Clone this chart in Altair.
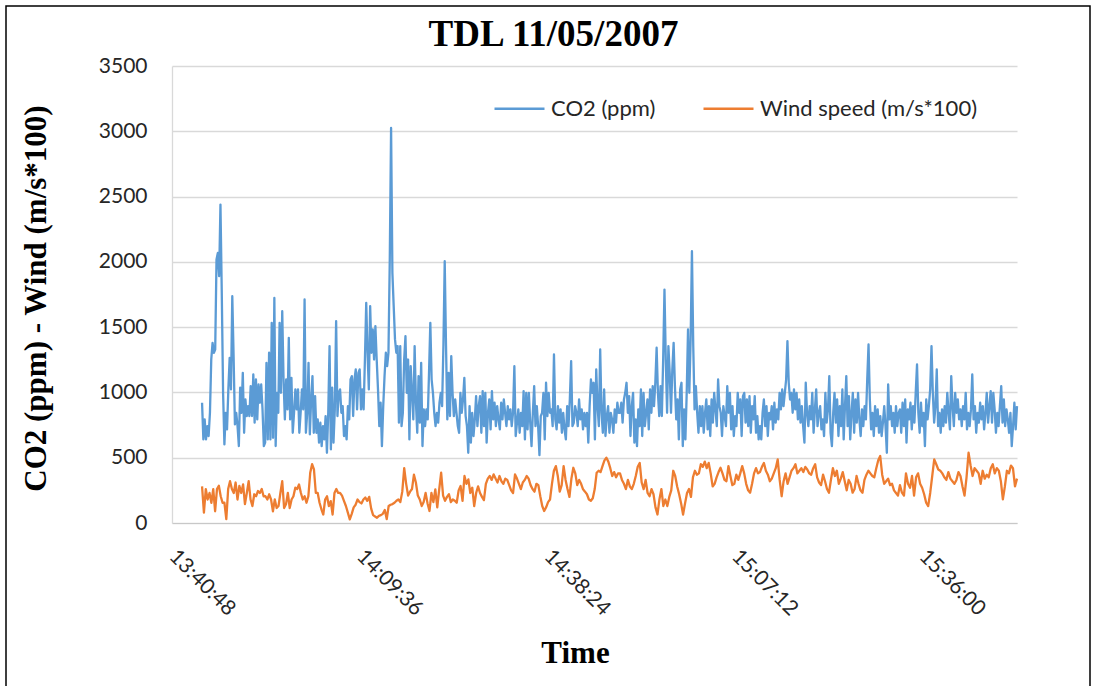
import altair as alt
import numpy as np
import pandas as pd

title_text = "TDL 11/05/2007"
y_title = "CO2 (ppm) - Wind (m/s*100)"
x_title = "Time"
series_names = ["CO2 (ppm)", "Wind speed (m/s*100)"]
series_colors = ["#5B9BD5", "#ED7D31"]

x_range = ["13:40:48", "15:50:36"]
tick_labels = ["13:40:48", "14:09:36", "14:38:24", "15:07:12", "15:36:00"]
y_ticks = [0, 500, 1000, 1500, 2000, 2500, 3000, 3500]

# time boundaries of the reading segments
seg_edges = ["13:45:25", "14:06:37", "14:28:07", "14:49:37", "15:11:07", "15:32:37", "15:50:36"]

co2_1 = [921, 640, 793, 640, 742, 666, 844, 1252, 1380, 1304, 1329, 2018, 2069, 1890, 2439, 1763, 997, 602, 844, 717,
         1023, 1265, 1023, 1737, 1278, 755, 844, 742, 589, 1036, 844, 1150, 691, 946, 819, 895, 819, 1048, 819, 1138,
         768, 1099, 793, 1061, 921, 1061, 870, 589, 615, 1227, 640, 1304, 640, 1533, 653, 1724, 589, 997, 844, 1533,
         997, 1622, 1099, 793, 1099, 870, 1418, 793, 1112, 691, 844, 1023, 870, 1023, 691, 844, 1023, 870, 1712, 691,
         844, 1227, 679, 946, 1125, 691, 972, 691, 793, 615, 768, 589, 742, 640, 819, 538, 844, 1355, 564, 1036,
         615, 870, 1546, 819, 997]
co2_2 = [1023, 844, 895, 666, 742, 640, 895, 793, 1099, 1125, 819, 1099, 1176, 870, 1150, 1176, 870, 1023, 870, 1252,
         1686, 1304, 1023, 1661, 1304, 1482, 1252, 1508, 1252, 1023, 742, 921, 589, 895, 1125, 1304, 1201, 1304, 2018, 3025,
         1916, 1661, 1406, 1304, 1355, 768, 1355, 742, 844, 1252, 1431, 997, 1252, 640, 1201, 997, 793, 1355, 921, 691,
         1125, 768, 1227, 589, 870, 742, 870, 793, 1150, 1533, 1099, 997, 844, 742, 844, 768, 921, 997, 895, 1355,
         2005, 1355, 793, 1150, 819, 1278, 997, 819, 946, 844, 742, 691, 997, 844, 946, 1112, 819, 742, 538, 895,
         615, 844, 666, 793, 972, 742, 895]
co2_3 = [972, 691, 1010, 742, 997, 615, 844, 946, 717, 1010, 793, 921, 742, 895, 793, 717, 921, 793, 946, 844,
         742, 895, 793, 870, 742, 844, 1201, 666, 768, 870, 691, 844, 742, 1010, 640, 997, 717, 997, 768, 589,
         844, 1048, 742, 895, 742, 520, 819, 844, 997, 640, 1074, 819, 997, 844, 870, 742, 1291, 793, 717, 895,
         768, 870, 691, 844, 717, 640, 895, 742, 946, 1240, 742, 768, 895, 844, 742, 946, 793, 870, 717, 844,
         742, 844, 615, 895, 1099, 997, 1074, 640, 1176, 895, 742, 1329, 844, 691, 1023, 666, 819, 895, 691, 844,
         793, 691, 870, 768, 921, 844]
co2_4 = [844, 921, 768, 946, 997, 1074, 844, 972, 666, 895, 997, 615, 793, 589, 870, 742, 1023, 666, 997, 742,
         844, 946, 717, 1023, 844, 1048, 895, 1074, 1342, 997, 819, 1048, 819, 1252, 1788, 1252, 844, 1355, 1150, 844,
         1176, 1380, 1048, 793, 946, 640, 1023, 1074, 589, 870, 640, 997, 1482, 997, 1406, 2082, 1355, 870, 1048, 844,
         691, 895, 742, 895, 691, 844, 946, 717, 895, 666, 946, 768, 997, 870, 742, 1099, 895, 844, 666, 895,
         819, 742, 1048, 844, 997, 717, 895, 666, 819, 742, 997, 844, 946, 666, 972, 997, 768, 946, 742, 972,
         691, 895, 793, 972, 691, 819, 640]
co2_5 = [742, 640, 844, 946, 742, 895, 666, 844, 793, 895, 717, 921, 768, 870, 793, 997, 870, 1023, 895, 997,
         1099, 1393, 1074, 946, 997, 844, 1023, 870, 997, 793, 946, 768, 895, 742, 615, 1074, 844, 742, 895, 793,
         997, 691, 870, 1023, 742, 844, 895, 717, 793, 666, 997, 768, 870, 1125, 691, 589, 844, 997, 768, 946,
         666, 895, 742, 1023, 640, 895, 1125, 742, 972, 640, 844, 997, 691, 946, 768, 997, 793, 666, 870, 742,
         895, 793, 1099, 1367, 946, 717, 844, 666, 895, 742, 870, 691, 819, 666, 768, 895, 742, 538, 1061, 793,
         895, 742, 844, 691, 895, 742, 844]
co2_6 = [870, 691, 921, 742, 946, 615, 870, 793, 921, 717, 895, 768, 997, 1214, 844, 691, 921, 742, 844, 589,
         946, 793, 895, 1023, 1355, 997, 768, 895, 1176, 742, 844, 691, 870, 742, 895, 768, 997, 844, 717, 1125,
         895, 742, 997, 844, 946, 793, 870, 742, 895, 793, 997, 717, 844, 742, 870, 1138, 793, 895, 691, 844,
         768, 921, 793, 895, 717, 844, 997, 768, 895, 1010, 768, 997, 870, 691, 844, 742, 895, 1048, 768, 946,
         742, 870, 793, 691, 844, 589, 742, 921, 717, 895]

wind_1 = [280, 80, 260, 180, 230, 155, 260, 90, 260, 285, 205, 155, 155, 30, 260, 320, 260, 230, 310, 180,
          285, 230, 295, 145, 230, 320, 180, 130, 220, 205, 245, 230, 260, 205, 205, 180, 220, 180, 90, 180,
          115, 130, 230, 320, 115, 143, 230, 115, 180, 205, 270, 260, 295, 230, 180, 205, 155, 205, 385, 450,
          410, 230, 230, 155, 105, 65, 180, 205, 130, 168, 65, 230, 260, 230]
wind_2 = [230, 210, 170, 130, 80, 28, 70, 120, 140, 180, 160, 150, 180, 195, 170, 200, 110, 60, 50, 40,
          55, 60, 70, 100, 30, 130, 140, 145, 155, 170, 180, 160, 240, 420, 300, 210, 240, 260, 370, 310,
          210, 180, 130, 160, 230, 150, 92, 230, 160, 258, 120, 258, 385, 210, 170, 200, 220, 160, 180, 170,
          155, 250, 283, 170, 360, 300, 334, 230, 270, 130, 230, 280]
wind_3 = [230, 200, 175, 300, 340, 360, 330, 372, 340, 310, 360, 320, 300, 340, 330, 290, 250, 230, 372, 340,
          300, 260, 310, 330, 360, 340, 290, 260, 240, 300, 290, 205, 130, 92, 120, 160, 180, 300, 400, 436,
          360, 240, 290, 436, 330, 260, 200, 340, 423, 380, 290, 330, 300, 258, 240, 220, 180, 170, 190, 260,
          385, 400, 390, 436, 480, 500, 470, 420, 360, 390, 350, 380]
wind_4 = [380, 330, 300, 260, 330, 280, 260, 300, 360, 430, 460, 310, 260, 330, 230, 205, 260, 220, 120, 65,
          180, 260, 130, 180, 130, 200, 250, 400, 360, 280, 220, 150, 65, 150, 230, 260, 200, 350, 400, 370,
          380, 450, 430, 470, 420, 460, 380, 280, 300, 350, 390, 423, 380, 330, 320, 436, 360, 290, 300, 370,
          330, 380, 436, 380, 300, 250, 232, 300, 380, 420, 380]
wind_5 = [390, 430, 460, 400, 370, 320, 340, 380, 420, 487, 330, 205, 320, 380, 300, 350, 400, 420, 450, 380,
          400, 420, 390, 430, 410, 380, 370, 420, 450, 350, 310, 290, 370, 320, 260, 232, 330, 420, 360, 400,
          300, 340, 390, 320, 250, 330, 300, 232, 260, 360, 300, 250, 232, 330, 370, 400, 380, 360, 350, 420,
          480, 513, 370, 300, 320, 340, 290, 300, 250, 230, 210]
wind_6 = [290, 232, 210, 380, 300, 270, 360, 210, 350, 380, 300, 270, 220, 155, 130, 230, 360, 487, 450, 410,
          400, 380, 350, 330, 390, 340, 320, 300, 330, 390, 360, 280, 210, 350, 538, 440, 360, 420, 400, 380,
          300, 400, 340, 370, 350, 420, 450, 380, 420, 400, 320, 181, 280, 400, 380, 440, 420, 280, 340]


def hms(s):
    h, m, sec = (int(p) for p in s.split(":"))
    return h * 3600 + m * 60 + sec


edges = [hms(s) for s in seg_edges]


def build(segments, name):
    rows = []
    for k, vals in enumerate(segments):
        last = k == len(segments) - 1
        ts = np.linspace(edges[k], edges[k + 1], len(vals), endpoint=last)
        for t, v in zip(ts, vals):
            rows.append({"t": float(t), "value": v, "series": name})
    return rows


rows = build([co2_1, co2_2, co2_3, co2_4, co2_5, co2_6], series_names[0])
rows += build([wind_1, wind_2, wind_3, wind_4, wind_5, wind_6], series_names[1])
df = pd.DataFrame(rows)

tick_values = [hms(s) for s in tick_labels]
label_expr = " : ".join(f"datum.value == {v} ? '{l}'" for v, l in zip(tick_values, tick_labels)) + " : ''"

W, H = 845, 457
PAD_L, PAD_T = 172, 66

lines = alt.Chart(df).mark_line(strokeWidth=2.3, strokeJoin="round").encode(
    x=alt.X("t:Q",
            scale=alt.Scale(domain=[hms(x_range[0]), hms(x_range[1])], nice=False, zero=False),
            axis=alt.Axis(values=tick_values, labelExpr=label_expr, title=x_title,
                          labelAngle=45, labelAlign="left", labelBaseline="middle",
                          labelPadding=30, ticks=False, grid=False,
                          domainColor="#C8C8C8", domainWidth=1.2,
                          labelFont="Lato", labelFontSize=21, labelColor="#262626",
                          titleFont="Liberation Serif", titleFontWeight="bold", titleFontSize=31,
                          titleColor="black", titleX=403, titleY=139, titleAlign="center",
                          titleBaseline="alphabetic")),
    y=alt.Y("value:Q",
            scale=alt.Scale(domain=[0, 3500], nice=False),
            axis=alt.Axis(values=y_ticks, format="d", title=y_title, ticks=False,
                          grid=True, gridColor="#D9D9D9", gridWidth=1.3,
                          domainColor="#D9D9D9", domainWidth=1.3,
                          labelFont="Lato", labelFontSize=21, labelColor="#262626", labelPadding=25,
                          titleFont="Liberation Serif", titleFontWeight="bold", titleFontSize=31,
                          titleColor="black", titleX=-136, titleY=232, titleAlign="center",
                          titleBaseline="middle", titleAngle=-90)),
    color=alt.Color("series:N",
                    scale=alt.Scale(domain=series_names, range=series_colors),
                    legend=alt.Legend(title=None, orient="none", legendX=321, legendY=16,
                                      direction="horizontal", symbolType="stroke",
                                      symbolSize=2500, symbolStrokeWidth=2.5,
                                      labelFont="Lato", labelFontSize=22, labelColor="#262626",
                                      labelLimit=0, labelOffset=5, columnPadding=42)),
)

frame = alt.Chart(alt.Data(values=[{"f": 1}])).mark_rect(
    fill=None, stroke="black", strokeWidth=1.5
).encode(
    x=alt.value(6 - PAD_L), x2=alt.value(1090 - PAD_L),
    y=alt.value(6 - PAD_T), y2=alt.value(720 - PAD_T),
)

chart = alt.layer(lines, frame).properties(
    width=W, height=H,
    title=alt.TitleParams(title_text, font="Liberation Serif", fontWeight="bold", fontSize=37,
                          color="black", anchor="middle", dx=-41, offset=-78, baseline="alphabetic"),
    autosize=alt.AutoSizeParams(type="none"),
    padding={"left": PAD_L, "top": PAD_T, "right": 1097 - PAD_L - W, "bottom": 686 - PAD_T - H},
    background="white",
).configure_view(stroke=None)

chart.save("out.html", embed_options={"renderer": "svg", "actions": False})
